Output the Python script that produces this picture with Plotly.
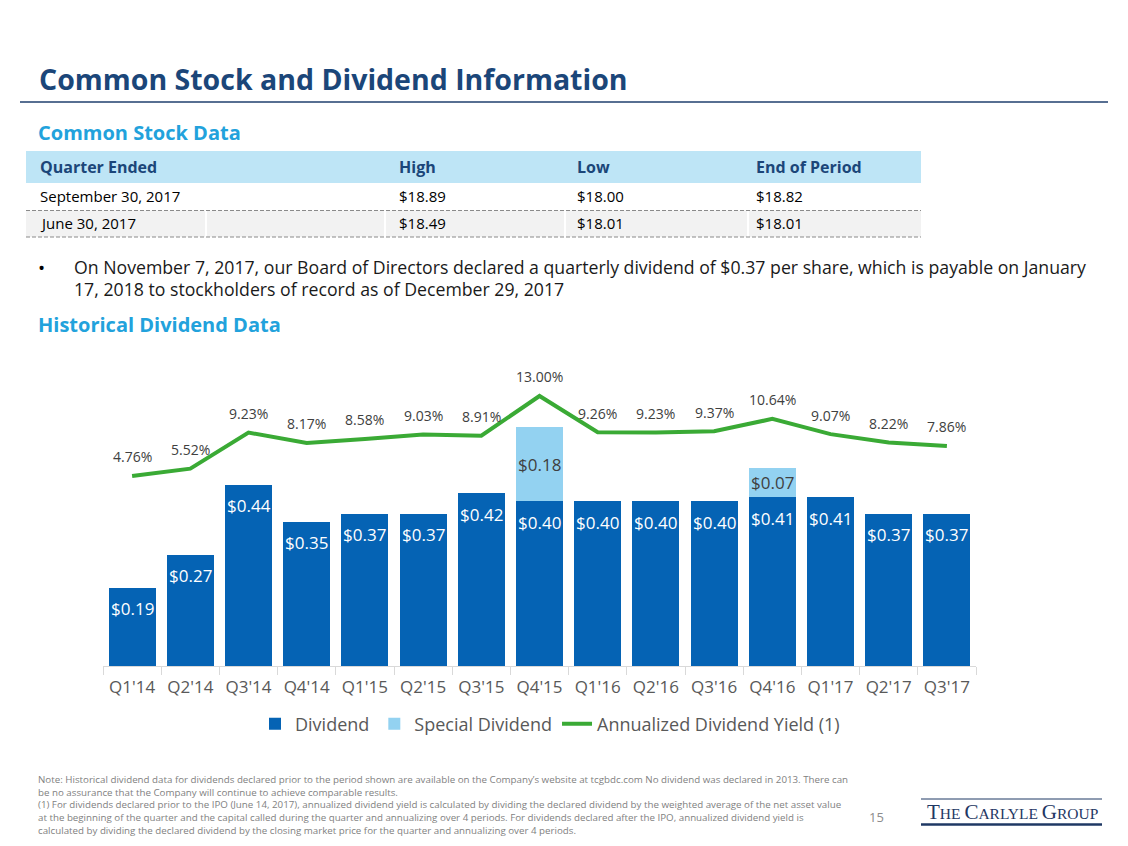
import plotly.graph_objects as go

# page offset: the html body adds an 8px margin, so the figure is shifted by it
OFF = 8
W, H = 1128 - OFF, 846 - OFF
FONT = "Open Sans"

# ---------------- data ----------------
quarters = ["Q1'14", "Q2'14", "Q3'14", "Q4'14", "Q1'15", "Q2'15", "Q3'15", "Q4'15",
            "Q1'16", "Q2'16", "Q3'16", "Q4'16", "Q1'17", "Q2'17", "Q3'17"]
dividend = [0.19, 0.27, 0.44, 0.35, 0.37, 0.37, 0.42, 0.40, 0.40, 0.40, 0.40, 0.41, 0.41, 0.37, 0.37]
special = [None, None, None, None, None, None, None, 0.18, None, None, None, 0.07, None, None, None]
yield_pct = [4.76, 5.52, 9.23, 8.17, 8.58, 9.03, 8.91, 13.00, 9.26, 9.23, 9.37, 10.64, 9.07, 8.22, 7.86]

table_header = ["Quarter Ended", "High", "Low", "End of Period"]
table_quarter = ["September 30, 2017", "June 30, 2017"]
table_high = ["$18.89", "$18.49"]
table_low = ["$18.00", "$18.01"]
table_end = ["$18.82", "$18.01"]

bullet_lines = ["On November 7, 2017, our Board of Directors declared a quarterly dividend of $0.37 per share, which is payable on January",
                "17, 2018 to stockholders of record as of December 29, 2017"]

footnote_lines = [
    "Note: Historical dividend data for dividends declared prior to the period shown are available on the Company\u2019s website at tcgbdc.com No dividend was declared in 2013. There can",
    "be no assurance that the Company will continue to achieve comparable results.",
    "(1) For dividends declared prior to the IPO (June 14, 2017), annualized dividend yield is calculated by dividing the declared dividend by the weighted average of the net asset value",
    "at the beginning of the quarter and the capital called during the quarter and annualizing over 4 periods. For dividends declared after the IPO, annualized dividend yield is",
    "calculated by dividing the declared dividend by the closing market price for the quarter and annualizing over 4 periods.",
]

# ---------------- styles ----------------
C_DIV = "#0563B4"
C_SPEC = "#93D2F1"
C_LINE = "#3AAA35"
C_TITLE = "#1B4679"
C_SUB = "#22A2DC"
C_GREY_TXT = "#404040"


def px(x):
    return (x - OFF) / W


def py(y):
    return 1 - (y - OFF) / H


fig = go.Figure()

# bars
fig.add_trace(go.Bar(x=quarters, y=dividend, name="Dividend", marker=dict(color=C_DIV, line=dict(width=0)),
                     hoverinfo="skip"))
fig.add_trace(go.Bar(x=quarters, y=special, name="Special Dividend", marker=dict(color=C_SPEC, line=dict(width=0)),
                     hoverinfo="skip"))
fig.add_trace(go.Scatter(x=quarters, y=yield_pct, name="Annualized Dividend Yield (1)", yaxis="y2",
                         mode="lines", line=dict(color=C_LINE, width=4), hoverinfo="skip"))

annotations = []
# bar value labels
for q, d in zip(quarters, dividend):
    annotations.append(dict(x=q, y=d, xref="x", yref="y", text=f"${d:.2f}", showarrow=False,
                            yshift=-21, yanchor="middle", font=dict(family=FONT, size=17, color="white")))
for q, d, s in zip(quarters, dividend, special):
    if s:
        annotations.append(dict(x=q, y=d + s / 2, xref="x", yref="y", text=f"${s:.2f}", showarrow=False,
                                yanchor="middle", font=dict(family=FONT, size=17, color=C_GREY_TXT)))
for q, v in zip(quarters, yield_pct):
    annotations.append(dict(x=q, y=v, xref="x", yref="y2", text=f"{v:.2f}%", showarrow=False,
                            yshift=19, yanchor="middle", font=dict(family=FONT, size=14, color=C_GREY_TXT)))

# slide texts
annotations.append(dict(x=px(37), y=py(79), xref="paper", yref="paper", xanchor="left", yanchor="middle",
                        text="<b>Common Stock and Dividend Information</b>", showarrow=False,
                        font=dict(family=FONT, size=28.5, color=C_TITLE)))
annotations.append(dict(x=px(36), y=py(133), xref="paper", yref="paper", xanchor="left", yanchor="middle",
                        text="<b>Common Stock Data</b>", showarrow=False,
                        font=dict(family=FONT, size=20, color=C_SUB)))
annotations.append(dict(x=px(36), y=py(324), xref="paper", yref="paper", xanchor="left", yanchor="middle",
                        text="<b>Historical Dividend Data</b>", showarrow=False,
                        font=dict(family=FONT, size=20, color=C_SUB)))
annotations.append(dict(x=px(41), y=py(268), xref="paper", yref="paper", xanchor="center", yanchor="middle",
                        text="\u2022", showarrow=False, font=dict(family=FONT, size=19, color="#000000")))
for i, t in enumerate(bullet_lines):
    annotations.append(dict(x=px(72), y=py(267 + 21.5 * i), xref="paper", yref="paper", xanchor="left",
                            yanchor="middle", text=t, showarrow=False,
                            font=dict(family=FONT, size=17.7, color="#1A1A1A")))
annotations.append(dict(x=px(36), y=py(805), xref="paper", yref="paper", xanchor="left", yanchor="middle",
                        align="left", text="<br>".join(footnote_lines), showarrow=False,
                        font=dict(family=FONT, size=9.75, color="#7F7F7F")))
annotations.append(dict(x=px(876), y=py(817), xref="paper", yref="paper", xanchor="center", yanchor="middle",
                        text="15", showarrow=False, font=dict(family=FONT, size=13, color="#8C8C8C")))
logo = ('<span style="font-size:21px">T</span>HE '
        '<span style="font-size:21px">C</span>ARLYLE '
        '<span style="font-size:21px">G</span>ROUP')
annotations.append(dict(x=px(1012), y=py(812), xref="paper", yref="paper", xanchor="center", yanchor="middle",
                        text=logo, showarrow=False,
                        font=dict(family="Liberation Serif", size=15.5, color="#1F3864")))

# ---------------- table (shapes + text) ----------------
TBL_X0, TBL_X1 = 26, 921
HDR_Y0, HDR_Y1 = 151, 183
ROW_BOUNDS = [(183, 210.5), (210.5, 237)]
COL_TEXT_X = [38, 397, 575, 754]
COL_SEPS = [206, 385, 565, 748]
ROW_FILLS = ["#FFFFFF", "#F2F2F2"]

shapes = [
    dict(type="line", xref="paper", yref="paper", x0=px(20), x1=px(1108), y0=py(102), y1=py(102),
         line=dict(color="#1F3F6E", width=1.5)),
    dict(type="rect", xref="paper", yref="paper", x0=px(TBL_X0), x1=px(TBL_X1), y0=py(HDR_Y1), y1=py(HDR_Y0),
         fillcolor="#BEE5F6", line=dict(width=0), layer="below"),
]
for (r0, r1), fc in zip(ROW_BOUNDS, ROW_FILLS):
    shapes.append(dict(type="rect", xref="paper", yref="paper", x0=px(TBL_X0), x1=px(TBL_X1), y0=py(r1), y1=py(r0),
                       fillcolor=fc, line=dict(width=0), layer="below"))
    for sx in COL_SEPS:
        shapes.append(dict(type="line", xref="paper", yref="paper", x0=px(sx), x1=px(sx), y0=py(r1), y1=py(r0),
                           line=dict(color="white", width=2), layer="below"))
    shapes.append(dict(type="line", xref="paper", yref="paper", x0=px(TBL_X0), x1=px(TBL_X1), y0=py(r1), y1=py(r1),
                       line=dict(color="#8A8A8A", width=1, dash="4px,2px")))

for h, cx in zip(table_header, COL_TEXT_X):
    annotations.append(dict(x=px(cx), y=py((HDR_Y0 + HDR_Y1) / 2), xref="paper", yref="paper", xanchor="left",
                            yanchor="middle", text=f"<b>{h}</b>", showarrow=False,
                            font=dict(family=FONT, size=16, color=C_TITLE)))
for col, cx in zip([table_quarter, table_high, table_low, table_end], COL_TEXT_X):
    for val, (r0, r1) in zip(col, ROW_BOUNDS):
        annotations.append(dict(x=px(cx), y=py((r0 + r1) / 2 - 0.5), xref="paper", yref="paper", xanchor="left",
                                yanchor="middle", text=val, showarrow=False,
                                font=dict(family=FONT, size=15, color="#000000")))

shapes += [
    dict(type="line", xref="paper", yref="paper", x0=px(921), x1=px(1102), y0=py(799), y1=py(799),
         line=dict(color="#1F3864", width=1)),
    dict(type="line", xref="paper", yref="paper", x0=px(921), x1=px(1102), y0=py(824.5), y1=py(824.5),
         line=dict(color="#1F3864", width=2.5)),
]

# plot area geometry (reference pixel positions)
X0, X1 = 103, 976
Y_TOP, Y_BASE = 380, 666
PX_PER_DOLLAR = 411.5
ZERO2, PX_PER_PCT = 522.2, 9.709

fig.update_layout(
    width=W, height=H,
    margin=dict(l=0, r=0, t=0, b=0),
    paper_bgcolor="white", plot_bgcolor="white",
    barmode="stack", bargap=0.19,
    font=dict(family=FONT, color="#595959"),
    showlegend=True,
    legend=dict(orientation="h", x=px(550), xanchor="center", y=py(724), yanchor="middle",
                font=dict(family=FONT, size=18, color="#595959"), traceorder="normal",
                itemwidth=30, bgcolor="rgba(0,0,0,0)"),
    xaxis=dict(domain=[px(X0), px(X1)], showline=True, linecolor="#D9D9D9", linewidth=1,
               ticks="outside", tickson="boundaries", ticklen=8, tickcolor="#D9D9D9",
               tickfont=dict(family=FONT, size=17, color="#595959"), ticklabelstandoff=6,
               showgrid=False, zeroline=False, fixedrange=True),
    yaxis=dict(domain=[py(Y_BASE), py(Y_TOP)], range=[0, (Y_BASE - Y_TOP) / PX_PER_DOLLAR],
               visible=False, showgrid=False, zeroline=False, fixedrange=True),
    yaxis2=dict(domain=[py(Y_BASE), py(Y_TOP)], overlaying="y", side="right",
                range=[-(Y_BASE - ZERO2) / PX_PER_PCT, (ZERO2 - Y_TOP) / PX_PER_PCT],
                visible=False, showgrid=False, zeroline=False, fixedrange=True),
    annotations=annotations,
    shapes=shapes,
)

fig.write_html("out.html")
